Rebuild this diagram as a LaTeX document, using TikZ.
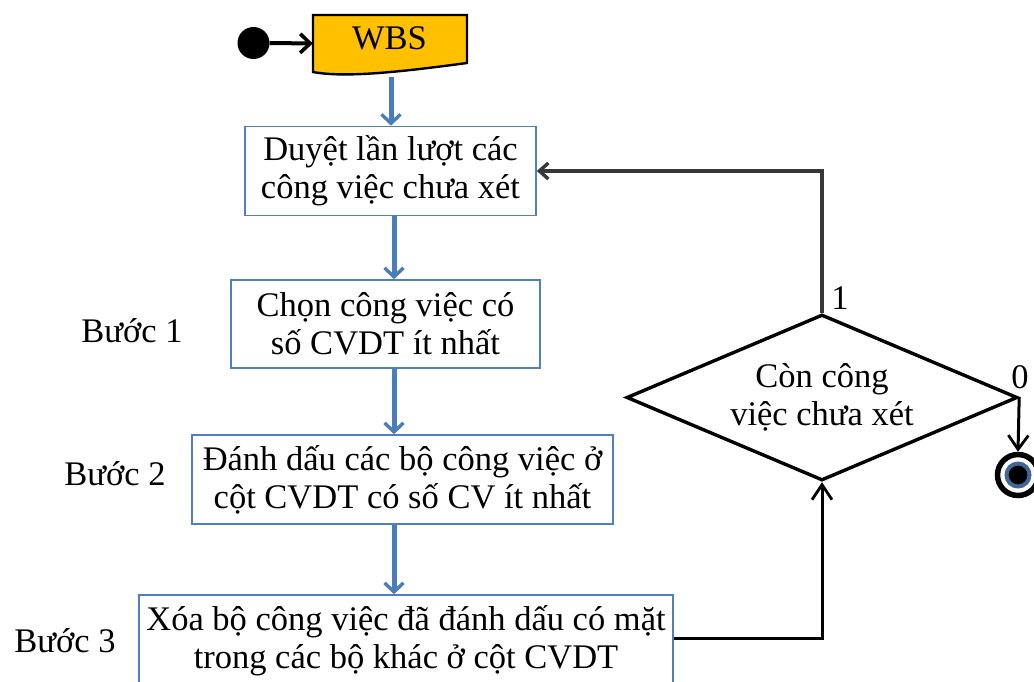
\documentclass[tikz,border=0pt]{standalone}
\usepackage{fontspec}
\setmainfont{Liberation Serif}
\usetikzlibrary{arrows.meta,shapes.geometric}

\definecolor{boxblue}{RGB}{79,129,189}
\definecolor{arrowblue}{RGB}{74,126,187}
\definecolor{docfill}{RGB}{255,192,0}
\definecolor{loopgray}{RGB}{55,55,55}

\begin{document}
\begin{tikzpicture}[x=1pt,y=-1pt,
  txt/.style={font=\fontsize{34.5}{38}\selectfont, align=center, inner sep=0pt},
  stepbox/.style={txt, draw=boxblue, line width=1.6pt},
  flow/.style={draw=arrowblue, line width=5pt,
    -{Straight Barb[length=9pt,width=19pt,line width=3.4pt]}},
  blackflow/.style={draw=black, line width=3pt,
    -{Straight Barb[length=15pt,width=20pt,line width=2.8pt]}},
  backflow/.style={draw=loopgray, line width=4.5pt,
    -{Straight Barb[length=9pt,width=16pt,line width=3.4pt]}},
]
\useasboundingbox (0,0) rectangle (1034,682);

% start marker and the WBS document
\node[circle, fill=black, minimum size=32pt, inner sep=0pt] (start) at (253.5,43) {};
\path[fill=docfill, draw=black, line width=2.4pt]
  (313,15) -- (467,15) -- (467,63) .. controls (400,72) and (345,78) .. (313,72) -- cycle;
\node[minimum width=154pt, minimum height=57pt, inner sep=0pt] (wbs) at (390,43.5) {};
\node[txt, anchor=base] (wbstext) at (389.5,50) {WBS};
\coordinate (wbsbot) at (391,77);
\draw[draw=black, line width=4pt,
  -{Straight Barb[length=10pt,width=19pt,line width=3.6pt]}] (start.east) -- (wbs.west);

% process steps
\coordinate (axis) at (394,0);
\node[stepbox, minimum width=291pt, minimum height=89pt] (box1) at (390.5,171)
  {Duyệt lần lượt các\\công việc chưa xét};
\node[stepbox, minimum width=309pt, minimum height=88pt] (box2) at (385.5,324)
  {Chọn công việc có\\số CVDT ít nhất};
\node[stepbox, minimum width=421pt, minimum height=89pt] (box3) at (402.5,479.5)
  {Đánh dấu các bộ công việc ở\\cột CVDT có số CV ít nhất};
\node[stepbox, minimum width=534pt, minimum height=92pt] (box4) at (406,641)
  {Xóa bộ công việc đã đánh dấu có mặt\\trong các bộ khác ở cột CVDT};

% step labels
\node[txt, anchor=base] (b1) at (132,342) {Bước 1};
\node[txt, anchor=base] (b2) at (115,485) {Bước 2};
\node[txt, anchor=base] (b3) at (65,652) {Bước 3};

% decision and end marker
\node[diamond, draw=black, line width=3.4pt, aspect=2.36,
  minimum width=391pt, minimum height=166pt, inner sep=0pt] (dia) at (822,397.5) {};
\node[txt] (diatext) at (dia.center) {Còn công\\việc chưa xét};
\node[circle, draw=black, line width=5.5pt, minimum size=41pt, inner sep=0pt] (fin) at (1018,475) {};
\node[circle, fill=black, draw=boxblue!80!black, line width=4pt, minimum size=23pt, inner sep=0pt] (fincore) at (fin.center) {};

% branch labels
\node[txt] (one) at (840,298) {1};
\node[txt] (zero) at (1020,377) {0};

% connectors
\draw[flow] (wbsbot) -- (wbsbot |- box1.north);
\draw[flow] (box1.south -| axis) -- (box2.north -| axis);
\draw[flow] (box2.south -| axis) -- (box3.north -| axis);
\draw[flow] (box3.south -| axis) -- (box4.north -| axis);
\draw[blackflow] ([yshift=3pt]box4.east) -| (dia.south);
\draw[backflow] (dia.north) |- (box1.east);
\draw[blackflow, -{Straight Barb[length=14pt,width=20pt,line width=2.8pt]}] (dia.east) -- (fin.north);
\end{tikzpicture}
\end{document}
